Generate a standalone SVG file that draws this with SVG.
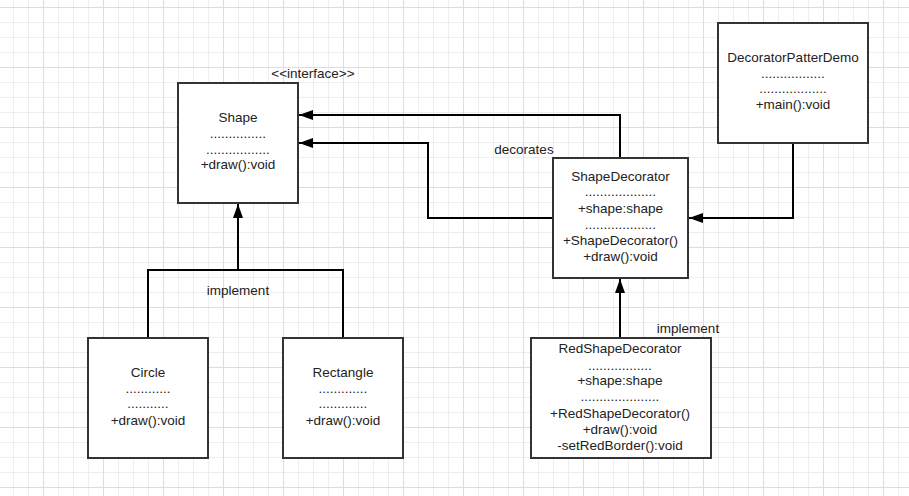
<svg xmlns="http://www.w3.org/2000/svg" width="909" height="496" viewBox="0 0 909 496">
<defs>
<pattern id="grid" patternUnits="userSpaceOnUse" x="43" y="7" width="60" height="60">
<path d="M15.5 0V60M30.5 0V60M45.5 0V60M0 15.5H60M0 30.5H60M0 45.5H60" stroke="#eeeeee" stroke-width="1" fill="none"/>
<path d="M0.5 0V60M0 0.5H60" stroke="#dddddd" stroke-width="1" fill="none"/>
</pattern>
<marker id="arr" viewBox="0 0 14 10" refX="14" refY="5" markerWidth="14" markerHeight="10" markerUnits="userSpaceOnUse" orient="auto">
<path d="M0 0L14 5L0 10Z" fill="#000"/>
</marker>
<style>
.box{fill:#fff;stroke:#333;stroke-width:2}
.t{font-family:"Liberation Sans",Arial,sans-serif;font-size:13.5px;fill:#222;text-anchor:middle}
.c{fill:none;stroke:#000;stroke-width:2}
</style>
</defs>
<rect width="909" height="496" fill="#fff"/>
<rect width="909" height="496" fill="url(#grid)"/>

<g id="connectors">
<path class="c" d="M620 158V115H299" marker-end="url(#arr)"/>
<path class="c" d="M553 218H428V143H299" marker-end="url(#arr)"/>
<path class="c" d="M793 143V218H689" marker-end="url(#arr)"/>
<path class="c" d="M620 338V279" marker-end="url(#arr)"/>
<path class="c" d="M148 338V270H343V338"/>
<path class="c" d="M238 270V204" marker-end="url(#arr)"/>
<text class="t" x="238" y="295">implement</text>
<text class="t" x="524" y="154">decorates</text>
<text class="t" x="688" y="333">implement</text>
</g>

<g id="shape">
<rect class="box" x="178" y="83" width="120" height="120"/>
<text class="t" x="313" y="78">&lt;&lt;interface&gt;&gt;</text>
<text class="t" x="238" y="122">Shape</text>
<text class="t" x="238" y="138">...............</text>
<text class="t" x="238" y="154">.................</text>
<text class="t" x="238" y="169">+draw():void</text>
</g>

<g id="decoratorPatterDemo">
<rect class="box" x="718" y="23" width="150" height="120"/>
<text class="t" x="793" y="62">DecoratorPatterDemo</text>
<text class="t" x="793" y="78">.................</text>
<text class="t" x="793" y="93">..................</text>
<text class="t" x="793" y="109">+main():void</text>
</g>

<g id="shapeDecorator">
<rect class="box" x="553" y="158" width="135" height="120"/>
<text class="t" x="620.5" y="181">ShapeDecorator</text>
<text class="t" x="620.5" y="196">...................</text>
<text class="t" x="620.5" y="212.5">+shape:shape</text>
<text class="t" x="620.5" y="228.5">...................</text>
<text class="t" x="620.5" y="245">+ShapeDecorator()</text>
<text class="t" x="620.5" y="261">+draw():void</text>
</g>

<g id="redShapeDecorator">
<rect class="box" x="531" y="338" width="180" height="120"/>
<text class="t" x="620" y="353">RedShapeDecorator</text>
<text class="t" x="620" y="369.5">.................</text>
<text class="t" x="620" y="385">+shape:shape</text>
<text class="t" x="620" y="401">.....................</text>
<text class="t" x="620" y="418">+RedShapeDecorator()</text>
<text class="t" x="620" y="434">+draw():void</text>
<text class="t" x="620" y="450">-setRedBorder():void</text>
</g>

<g id="circle">
<rect class="box" x="88" y="338" width="120" height="120"/>
<text class="t" x="148" y="376.5">Circle</text>
<text class="t" x="148" y="393">............</text>
<text class="t" x="148" y="408">...........</text>
<text class="t" x="148" y="425">+draw():void</text>
</g>

<g id="rectangle">
<rect class="box" x="283" y="338" width="120" height="120"/>
<text class="t" x="343" y="376.5">Rectangle</text>
<text class="t" x="343" y="393">.............</text>
<text class="t" x="343" y="408">.............</text>
<text class="t" x="343" y="425">+draw():void</text>
</g>
</svg>
